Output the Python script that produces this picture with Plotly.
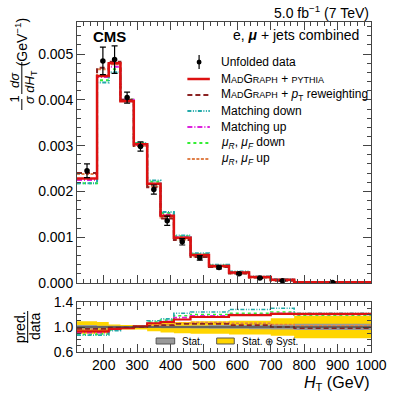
import plotly.graph_objects as go

# ---------------- data ----------------
edges = [120, 180, 215, 250, 290, 330, 370, 410, 460, 515, 575, 635, 700, 770, 1000]

data_vals = [0.00245, 0.00485, 0.00488, 0.00405, 0.00298, 0.00204, 0.00136, 0.00090,
             0.00055, 0.00034, 0.00020, 0.00011, 0.00005, 0.000012]
data_err = [0.00015, 0.00030, 0.00030, 0.00012, 0.00010, 0.00010, 0.00010, 0.00007,
            0.00005, 0.00003, 0.00002, 0.00001, 0.00001, 0.000005]

mg_pythia = [0.00228, 0.00452, 0.00480, 0.00397, 0.00303, 0.00217, 0.00147, 0.00099,
             0.00061, 0.00037, 0.00023, 0.00013, 0.00007, 0.000015]
mg_ptrew = [0.00240, 0.00470, 0.00483, 0.00400, 0.00299, 0.00209, 0.00141, 0.00094,
            0.00057, 0.00035, 0.00021, 0.00012, 0.00005, 0.000012]
match_down = [0.00218, 0.00438, 0.00460, 0.00398, 0.00306, 0.00224, 0.00155, 0.00104,
              0.00065, 0.00040, 0.00025, 0.00014, 0.00008, 0.000016]
match_up = [0.00225, 0.00450, 0.00472, 0.00400, 0.00302, 0.00217, 0.00149, 0.00100,
            0.00061, 0.00037, 0.00023, 0.00013, 0.00007, 0.000015]
mu_down = [0.00218, 0.00443, 0.00467, 0.00401, 0.00306, 0.00221, 0.00153, 0.00102,
           0.00063, 0.00038, 0.00024, 0.00013, 0.00007, 0.000015]
mu_up = [0.00238, 0.00467, 0.00478, 0.00398, 0.00299, 0.00211, 0.00143, 0.00095,
         0.00058, 0.00035, 0.00021, 0.00012, 0.00006, 0.000013]

# ratio panel (pred./data)
r_mg_pythia = [0.93, 0.93, 0.97, 0.98, 1.01, 1.06, 1.08, 1.12, 1.16, 1.16, 1.19, 1.19, 1.21, 1.21]
r_mg_ptrew = [0.97, 0.97, 0.99, 0.99, 1.00, 1.02, 1.03, 1.05, 1.05, 1.05, 1.03, 1.03, 1.00, 0.98]
r_match_down = [0.87, 0.87, 0.94, 0.98, 1.02, 1.10, 1.13, 1.22, 1.24, 1.24, 1.28, 1.28, 1.30, 1.22]
r_match_up = [0.91, 0.91, 0.96, 0.99, 1.01, 1.06, 1.09, 1.15, 1.18, 1.18, 1.20, 1.20, 1.22, 1.20]
r_mu_down = [0.88, 0.89, 0.95, 0.99, 1.02, 1.08, 1.11, 1.18, 1.20, 1.20, 1.22, 1.22, 1.24, 1.19]
r_mu_up = [0.96, 0.96, 0.98, 0.98, 1.00, 1.03, 1.04, 1.06, 1.07, 1.07, 1.06, 1.06, 1.04, 1.02]

stat_lo = [0.97, 0.98, 0.98, 0.985, 0.985, 0.985, 0.98, 0.98, 0.975, 0.97, 0.97, 0.965, 0.96, 0.95]
stat_hi = [1.03, 1.02, 1.02, 1.015, 1.015, 1.015, 1.02, 1.02, 1.025, 1.03, 1.03, 1.035, 1.04, 1.05]
syst_lo = [0.89, 0.90, 0.95, 0.96, 0.96, 0.93, 0.91, 0.90, 0.89, 0.89, 0.88, 0.88, 0.86, 0.82]
syst_hi = [1.09, 1.08, 1.04, 1.03, 1.03, 1.05, 1.07, 1.08, 1.09, 1.09, 1.10, 1.10, 1.14, 1.18]

x_ticks = [200, 300, 400, 500, 600, 700, 800, 900, 1000]

# ---------------- helpers ----------------
W, H = 399, 399
L, T = 77, 22
PW, PH = 301, 330
R = W - L - PW
B = H - T - PH


def X(px):
    return (px - L) / PW


def Y(py):
    return (H - B - py) / PH


def step(vals):
    return list(vals) + [vals[-1]]


FONT = "Liberation Sans, Arial, sans-serif"
RED = "#dd1111"
DRED = "#8b2323"
TEAL = "#22aaaa"
MAG = "#dd22dd"
GREEN = "#33ee33"
ORANGE = "#e0804a"

styles = [
    ("mu_up", ORANGE, "3px,1.5px", 2),
    ("mu_down", GREEN, "dot", 2),
    ("match_up", MAG, "5px,2px,1px,2px", 2),
    ("match_down", TEAL, "4px,1.5px,1px,1.5px,1px,1.5px", 2),
    ("mg_ptrew", DRED, "5px,3px", 2),
    ("mg_pythia", RED, "solid", 2.5),
]
main_series = {"mu_up": mu_up, "mu_down": mu_down, "match_up": match_up,
               "match_down": match_down, "mg_ptrew": mg_ptrew, "mg_pythia": mg_pythia}
ratio_series = {"mu_up": r_mu_up, "mu_down": r_mu_down, "match_up": r_match_up,
                "match_down": r_match_down, "mg_ptrew": r_mg_ptrew, "mg_pythia": r_mg_pythia}

fig = go.Figure()

# ---------------- ratio panel bands ----------------
fig.add_trace(go.Scatter(x=edges, y=step(syst_lo), mode="lines", line=dict(width=0, shape="hv"),
                         xaxis="x2", yaxis="y2", showlegend=False, hoverinfo="skip"))
fig.add_trace(go.Scatter(x=edges, y=step(syst_hi), mode="lines", line=dict(width=0, shape="hv"),
                         fill="tonexty", fillcolor="#ffd500",
                         xaxis="x2", yaxis="y2", showlegend=False, hoverinfo="skip"))
fig.add_trace(go.Scatter(x=edges, y=step(stat_lo), mode="lines", line=dict(width=0, shape="hv"),
                         xaxis="x2", yaxis="y2", showlegend=False, hoverinfo="skip"))
fig.add_trace(go.Scatter(x=edges, y=step(stat_hi), mode="lines", line=dict(width=0, shape="hv"),
                         fill="tonexty", fillcolor="#999999",
                         xaxis="x2", yaxis="y2", showlegend=False, hoverinfo="skip"))

# ---------------- model lines ----------------
for key, col, dash, w in styles:
    fig.add_trace(go.Scatter(x=edges, y=step(main_series[key]), mode="lines",
                             line=dict(color=col, dash=dash, width=w, shape="hv"),
                             xaxis="x", yaxis="y", showlegend=False, hoverinfo="skip"))
    fig.add_trace(go.Scatter(x=edges, y=step(ratio_series[key]), mode="lines",
                             line=dict(color=col, dash=dash, width=w * 0.85, shape="hv"),
                             xaxis="x2", yaxis="y2", showlegend=False, hoverinfo="skip"))

# data points
centers = [(edges[i] + edges[i + 1]) / 2 for i in range(len(edges) - 1)]
fig.add_trace(go.Scatter(x=centers, y=data_vals, mode="markers",
                         marker=dict(color="black", size=5.5),
                         error_y=dict(type="data", array=data_err, color="black", thickness=1.2, width=3),
                         xaxis="x", yaxis="y", showlegend=False))

shapes = []
# ratio line at 1
shapes.append(dict(type="line", xref="x2", yref="y2", x0=edges[0], x1=edges[-1], y0=1, y1=1,
                   line=dict(color="#333333", width=1.2)))

annotations = []


def ann(text, px, py, size=12, xanchor="left", yanchor="middle", angle=0, color="black"):
    annotations.append(dict(text=text, x=X(px), y=Y(py), xref="paper", yref="paper",
                            showarrow=False, xanchor=xanchor, yanchor=yanchor, textangle=angle,
                            font=dict(family=FONT, size=size, color=color)))


# ---------------- legend (main) ----------------
sc = "font-size:9px"
leg = [
    (79, RED, "solid", 2.5, f"M<span style='{sc}'>AD</span>G<span style='{sc}'>RAPH</span> + <span style='{sc}'>PYTHIA</span>"),
    (95, DRED, "5px,3px", 2, f"M<span style='{sc}'>AD</span>G<span style='{sc}'>RAPH</span> + <i>p</i><sub>T</sub> reweighting"),
    (111, TEAL, "4px,1.5px,1px,1.5px,1px,1.5px", 2, "Matching down"),
    (127, MAG, "5px,2px,1px,2px", 2, "Matching up"),
    (143, GREEN, "dot", 2, "<i>μ<sub>R</sub></i>, <i>μ<sub>F</sub></i> down"),
    (159, ORANGE, "3px,1.5px", 2, "<i>μ<sub>R</sub></i>, <i>μ<sub>F</sub></i> up"),
]
for py, col, dash, w, txt in leg:
    shapes.append(dict(type="line", xref="paper", yref="paper", x0=X(190), x1=X(213), y0=Y(py), y1=Y(py),
                       line=dict(color=col, dash=dash, width=w)))
    ann(txt, 222, py, size=12)

# data legend marker
shapes.append(dict(type="line", xref="paper", yref="paper", x0=X(202), x1=X(202), y0=Y(55), y1=Y(69),
                   line=dict(color="black", width=1.2)))
shapes.append(dict(type="circle", xref="paper", yref="paper", x0=X(199.5), x1=X(204.5), y0=Y(59.5), y1=Y(64.5),
                   fillcolor="black", line=dict(color="black", width=0)))
ann("Unfolded data", 222, 62, size=12)

# ratio legend
shapes.append(dict(type="rect", xref="paper", yref="paper", x0=X(158), x1=X(177), y0=Y(344), y1=Y(338),
                   fillcolor="#999999", line=dict(color="#555555", width=1)))
ann("Stat.", 182, 341, size=10)
shapes.append(dict(type="rect", xref="paper", yref="paper", x0=X(220), x1=X(238), y0=Y(344), y1=Y(338),
                   fillcolor="#ffd500", line=dict(color="#555555", width=1)))
ann("Stat. ⊕ Syst.", 244, 341, size=10)

# ---------------- texts ----------------
ann("5.0 fb<sup>−1</sup> (7 TeV)", 378, 12, size=14, xanchor="right")
ann("<b>CMS</b>", 91, 36, size=15)
ann("e, <b><i>μ</i></b> + jets combined", 368, 35, size=14, xanchor="right")
ann("<i>H</i><sub>T</sub> (GeV)", 379, 383, size=16, xanchor="right")

# y-axis title main: 1/σ dσ/dH_T (GeV^-1)
ann("(GeV<sup>−1</sup>)", 20, 42, size=14, xanchor="center", angle=-90)
ann("1  <i>dσ</i>", 12, 87, size=13, xanchor="center", angle=-90)
ann("<i>σ</i> <i>dH</i><sub>T</sub>", 29, 87, size=13, xanchor="center", angle=-90)
shapes.append(dict(type="line", xref="paper", yref="paper", x0=X(20.5), x1=X(20.5), y0=Y(110), y1=Y(99),
                   line=dict(color="black", width=1)))
shapes.append(dict(type="line", xref="paper", yref="paper", x0=X(20.5), x1=X(20.5), y0=Y(94), y1=Y(62),
                   line=dict(color="black", width=1)))

# ratio y title
ann("pred.", 19, 327, size=14, xanchor="center", angle=-90)
ann("data", 34, 327, size=14, xanchor="center", angle=-90)
shapes.append(dict(type="line", xref="paper", yref="paper", x0=X(26.5), x1=X(26.5), y0=Y(343), y1=Y(311),
                   line=dict(color="black", width=1)))

axis_common = dict(showline=True, linecolor="#444444", linewidth=1, mirror="ticks", ticks="inside",
                   tickcolor="#444444", showgrid=False, zeroline=False,
                   tickfont=dict(family=FONT, size=14, color="black"))

fig.update_layout(
    width=W, height=H, margin=dict(l=L, r=R, t=T, b=B),
    paper_bgcolor="white", plot_bgcolor="white",
    showlegend=False,
    xaxis=dict(range=[edges[0], edges[-1]], domain=[0, 1], anchor="y", tickvals=x_ticks,
               showticklabels=False, ticklen=8,
               minor=dict(dtick=20, tick0=0, ticks="inside", ticklen=4, tickcolor="#444444"),
               **axis_common),
    yaxis=dict(range=[0, 0.0057], domain=[Y(283), 1], anchor="x", dtick=0.001, tick0=0,
               tickformat=".3f", ticklen=8,
               minor=dict(dtick=0.0002, ticks="inside", ticklen=4, tickcolor="#444444"),
               **axis_common),
    xaxis2=dict(range=[edges[0], edges[-1]], domain=[0, 1], anchor="y2", tickvals=x_ticks,
                ticktext=[str(v) for v in x_ticks], ticklen=8,
                minor=dict(dtick=20, tick0=0, ticks="inside", ticklen=4, tickcolor="#444444"),
                **axis_common),
    yaxis2=dict(range=[0.6, 1.4], domain=[0, Y(302)], anchor="x2", tickvals=[0.6, 1.0, 1.4],
                ticktext=["0.6", "1.0", "1.4"], ticklen=8,
                minor=dict(dtick=0.1, tick0=0.6, ticks="inside", ticklen=4, tickcolor="#444444"),
                **axis_common),
    shapes=shapes,
    annotations=annotations,
)

fig.write_html("out.html", config={"displayModeBar": False},
               post_script="document.body.style.margin='0';document.body.style.overflow='hidden';")
